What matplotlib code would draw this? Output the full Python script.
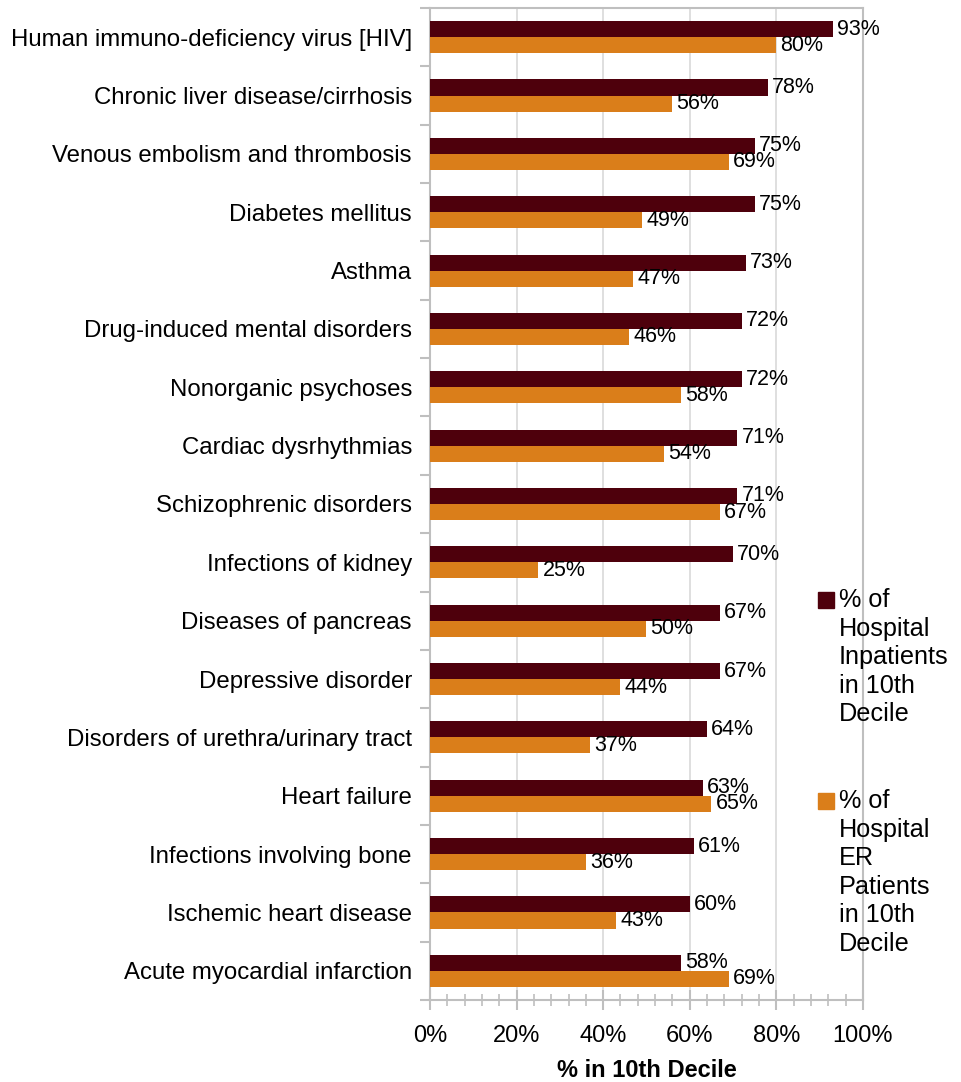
import matplotlib.pyplot as plt
import numpy as np
from matplotlib.ticker import MultipleLocator, PercentFormatter
from matplotlib.patches import Rectangle

plt.rcParams['font.family'] = ['Liberation Sans', 'DejaVu Sans']

conditions = ["Human immuno-deficiency virus [HIV]", "Chronic liver disease/cirrhosis",
              "Venous embolism and thrombosis", "Diabetes mellitus", "Asthma",
              "Drug-induced mental disorders", "Nonorganic psychoses", "Cardiac dysrhythmias",
              "Schizophrenic disorders", "Infections of kidney", "Diseases of pancreas",
              "Depressive disorder", "Disorders of urethra/urinary tract", "Heart failure",
              "Infections involving bone", "Ischemic heart disease", "Acute myocardial infarction"]
inpatient = [93, 78, 75, 75, 73, 72, 72, 71, 71, 70, 67, 67, 64, 63, 61, 60, 58]
er = [80, 56, 69, 49, 47, 46, 58, 54, 67, 25, 50, 44, 37, 65, 36, 43, 69]

c_in = '#4E000C'
c_er = '#DA7E1A'
grey = '#BFBFBF'

fig = plt.figure(figsize=(9.62, 10.82), dpi=100)
ax = fig.add_axes([0.447, 0.0758, 0.45, 0.9168])

y = np.arange(len(conditions))
h = 0.275
b1 = ax.barh(y - h / 2, inpatient, height=h, color=c_in, zorder=3)
b2 = ax.barh(y + h / 2, er, height=h, color=c_er, zorder=3)
ax.bar_label(b1, labels=[f"{v}%" for v in inpatient], padding=3, fontsize=15.5)
ax.bar_label(b2, labels=[f"{v}%" for v in er], padding=3, fontsize=15.5)

ax.set_ylim(len(conditions) - 0.5, -0.5)
ax.set_xlim(0, 100)
ax.set_yticks(y)
ax.set_yticklabels(conditions, fontsize=17.3)
ax.set_yticks(np.arange(-0.5, len(conditions), 1), minor=True)
ax.tick_params(axis='y', which='major', length=0, pad=13)
ax.tick_params(axis='y', which='minor', length=7, color=grey, width=1.5)

ax.xaxis.set_major_locator(MultipleLocator(20))
ax.xaxis.set_minor_locator(MultipleLocator(4))
ax.xaxis.set_major_formatter(PercentFormatter(decimals=0))
ax.tick_params(axis='x', which='major', direction='inout', length=14, color=grey,
               width=1.5, labelsize=17, pad=11)
ax.tick_params(axis='x', which='minor', direction='inout', length=9, color=grey, width=1.2)
ax.set_xlabel("% in 10th Decile", fontsize=17, fontweight='bold', labelpad=9)

ax.grid(axis='x', which='major', color='#D9D9D9', linewidth=1.2, zorder=0)
for s in ax.spines.values():
    s.set_color(grey)
    s.set_linewidth(1.5)

# legend drawn as two stacked blocks of wrapped text
legend_items = [(c_in, "% of\nHospital\nInpatients\nin 10th\nDecile", 600),
                (c_er, "% of\nHospital\nER\nPatients\nin 10th\nDecile", 801)]
for color, text, ypx in legend_items:
    fy = 1 - ypx / 1082
    fig.patches.append(Rectangle((818 / 962, fy - 8 / 1082), 16 / 962, 16 / 1082,
                                 transform=fig.transFigure, color=color))
    fig.text(839 / 962, fy + 12 / 1082, text, fontsize=18.2, va='top', ha='left',
             linespacing=1.24)

fig.savefig('out.png', dpi=100)
